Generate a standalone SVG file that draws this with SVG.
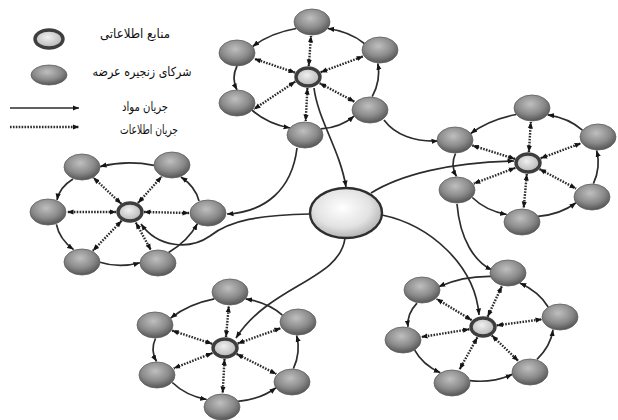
<svg xmlns="http://www.w3.org/2000/svg" width="618" height="420" viewBox="0 0 618 420">
<defs>
<radialGradient id="gn" cx="45%" cy="35%" r="65%"><stop offset="0" stop-color="#bfbfbf"/><stop offset="0.6" stop-color="#8a8a8a"/><stop offset="1" stop-color="#555"/></radialGradient>
<radialGradient id="gr" cx="45%" cy="40%" r="60%"><stop offset="0" stop-color="#f0f0f0"/><stop offset="1" stop-color="#b4b4b4"/></radialGradient>
<radialGradient id="gs" cx="45%" cy="40%" r="65%"><stop offset="0" stop-color="#ffffff"/><stop offset="0.6" stop-color="#e2e2e2"/><stop offset="1" stop-color="#a8a8a8"/></radialGradient>
<marker id="a" viewBox="0 0 10 10" refX="10" refY="5" markerWidth="6.5" markerHeight="6.5" markerUnits="userSpaceOnUse" orient="auto-start-reverse"><path d="M0,1 L10,5 L0,9 z" fill="#151515"/></marker>
</defs>
<style>
.n{fill:url(#gn);stroke:#606060;stroke-width:0.8}
.r{fill:url(#gr);stroke:#3e3e3e;stroke-width:3.4}
.s{fill:none;stroke:#2c2c2c;stroke-width:1.7}
.d{fill:none;stroke:#2c2c2c;stroke-width:2.4;stroke-dasharray:1.6 1.3}
.t{font-family:'DejaVu Sans',sans-serif;font-size:12.5px;fill:#111}
</style>
<rect width="618" height="420" fill="#fff"/>

<g id="legend">
<ellipse cx="49" cy="39" rx="14" ry="9" class="r" stroke-width="4.2"/>
<ellipse cx="49" cy="75" rx="18" ry="10" class="n"/>
<line x1="10" y1="108" x2="79" y2="108" class="s" marker-end="url(#a)"/>
<line x1="10" y1="127" x2="79" y2="127" class="d" marker-end="url(#a)"/>
<text class="t" x="135" y="38" text-anchor="middle" textLength="70" lengthAdjust="spacingAndGlyphs">منابع اطلاعاتی</text>
<text class="t" x="142" y="76" text-anchor="middle" textLength="99" lengthAdjust="spacingAndGlyphs">شرکای زنجیره عرضه</text>
<text class="t" x="145" y="111" text-anchor="middle" textLength="46" lengthAdjust="spacingAndGlyphs">جریان مواد</text>
<text class="t" x="149" y="134" text-anchor="middle" textLength="58" lengthAdjust="spacingAndGlyphs">جریان اطلاعات</text>
</g>

<g id="connectors">
<path class="s" d="M314,88 C318,120 340,150 346,187" marker-end="url(#a)"/>
<path class="s" d="M297,148 C292,190 265,212 227,214" marker-end="url(#a)"/>
<path class="s" d="M310,214 C260,215 230,220 210,236 C190,250 158,248 141,224" marker-end="url(#a)"/>
<path class="s" d="M371,193 C400,175 450,162 514,161" marker-end="url(#a)"/>
<path class="s" d="M384,120 C395,135 415,142 438,141" marker-end="url(#a)"/>
<path class="s" d="M457,204 C460,240 475,262 492,270" marker-end="url(#a)"/>
<path class="s" d="M382,215 C430,225 475,265 479,315" marker-end="url(#a)"/>
<path class="s" d="M345,238 C340,280 270,285 236,338" marker-end="url(#a)"/>

<line class="d" x1="308.8" y1="66" x2="311" y2="36" marker-start="url(#a)" marker-end="url(#a)"/>
<line class="d" x1="295.1" y1="72.6" x2="254.3" y2="58.8" marker-start="url(#a)" marker-end="url(#a)"/>
<line class="d" x1="295.3" y1="81.6" x2="253.9" y2="109.2" marker-start="url(#a)" marker-end="url(#a)"/>
<line class="d" x1="307.4" y1="88" x2="305.7" y2="121" marker-start="url(#a)" marker-end="url(#a)"/>
<line class="d" x1="319.6" y1="83.2" x2="354.6" y2="101.8" marker-start="url(#a)" marker-end="url(#a)"/>
<line class="d" x1="320.6" y1="72.3" x2="363.2" y2="56.3" marker-start="url(#a)" marker-end="url(#a)"/>
<path class="s" d="M296.3,28.5 Q270.6,32.9 252.7,46.5" marker-end="url(#a)"/>
<path class="s" d="M237,66 Q231,78 237,90" marker-end="url(#a)"/>
<path class="s" d="M251.9,110 Q267,123.5 290.1,128" marker-end="url(#a)"/>
<path class="s" d="M320.9,128.9 Q340.8,127.5 354.1,116.1" marker-end="url(#a)"/>
<path class="s" d="M372.2,96.7 Q381,80.3 377.8,63.3" marker-end="url(#a)"/>
<path class="s" d="M364.3,43.5 Q350,31.6 327.7,28.5" marker-end="url(#a)"/>

<line class="d" x1="528.9" y1="152" x2="530.8" y2="122" marker-start="url(#a)" marker-end="url(#a)"/>
<line class="d" x1="515.1" y1="159" x2="472.2" y2="145.4" marker-start="url(#a)" marker-end="url(#a)"/>
<line class="d" x1="540.6" y1="158.3" x2="581.1" y2="143.3" marker-start="url(#a)" marker-end="url(#a)"/>
<line class="d" x1="515.4" y1="167.8" x2="473.8" y2="183.6" marker-start="url(#a)" marker-end="url(#a)"/>
<line class="d" x1="539.5" y1="169.1" x2="576.1" y2="188.6" marker-start="url(#a)" marker-end="url(#a)"/>
<line class="d" x1="526.8" y1="174" x2="523.7" y2="208" marker-start="url(#a)" marker-end="url(#a)"/>
<path class="s" d="M516.3,114.5 Q489.5,119.5 470.7,133.5" marker-end="url(#a)"/>
<path class="s" d="M455.5,153.5 Q450,165.2 456.5,176.5" marker-end="url(#a)"/>
<path class="s" d="M472.3,197.5 Q485.5,210.5 506.7,214.5" marker-end="url(#a)"/>
<path class="s" d="M538,216.3 Q560.2,214.6 576,202.7" marker-end="url(#a)"/>
<path class="s" d="M593.4,183.6 Q601,167.4 596.6,150.4" marker-end="url(#a)"/>
<path class="s" d="M582.4,130.2 Q569,118 547.6,114.8" marker-end="url(#a)"/>

<line class="d" x1="121.3" y1="203.8" x2="93.3" y2="177.6" marker-start="url(#a)" marker-end="url(#a)"/>
<line class="d" x1="138" y1="203" x2="161.7" y2="176.6" marker-start="url(#a)" marker-end="url(#a)"/>
<line class="d" x1="116" y1="212" x2="67" y2="212" marker-start="url(#a)" marker-end="url(#a)"/>
<line class="d" x1="144" y1="212" x2="189" y2="213" marker-start="url(#a)" marker-end="url(#a)"/>
<line class="d" x1="121.7" y1="220.7" x2="92.8" y2="250.8" marker-start="url(#a)" marker-end="url(#a)"/>
<line class="d" x1="135.8" y1="222.5" x2="151" y2="250.3" marker-start="url(#a)" marker-end="url(#a)"/>
<path class="s" d="M154,165.4 Q126.6,160 100,166.6" marker-end="url(#a)"/>
<path class="s" d="M73,179 Q59.3,187.5 57,200" marker-end="url(#a)"/>
<path class="s" d="M56.4,224.4 Q59.4,239.2 73.6,249.6" marker-end="url(#a)"/>
<path class="s" d="M100,262.2 Q118.8,268.4 140,262.8" marker-end="url(#a)"/>
<path class="s" d="M168.6,252.4 Q188.4,240.6 197.4,223.6" marker-end="url(#a)"/>
<path class="s" d="M199,201 Q195.6,186.9 181,177" marker-end="url(#a)"/>

<line class="d" x1="226" y1="337" x2="228.8" y2="306" marker-start="url(#a)" marker-end="url(#a)"/>
<line class="d" x1="212.2" y1="343.8" x2="172.1" y2="330.6" marker-start="url(#a)" marker-end="url(#a)"/>
<line class="d" x1="237.7" y1="343.5" x2="280.9" y2="328.1" marker-start="url(#a)" marker-end="url(#a)"/>
<line class="d" x1="212.5" y1="353" x2="173.8" y2="368.3" marker-start="url(#a)" marker-end="url(#a)"/>
<line class="d" x1="236.6" y1="353.9" x2="276.3" y2="374" marker-start="url(#a)" marker-end="url(#a)"/>
<line class="d" x1="224.5" y1="359" x2="222.7" y2="393" marker-start="url(#a)" marker-end="url(#a)"/>
<path class="s" d="M214.4,298.9 Q188.7,303.9 170.6,318.1" marker-end="url(#a)"/>
<path class="s" d="M155.5,338.5 Q150,350 156.5,361.5" marker-end="url(#a)"/>
<path class="s" d="M172.3,382.5 Q185.7,395.6 206.7,399.5" marker-end="url(#a)"/>
<path class="s" d="M238,401.3 Q260.4,399.4 276,387.7" marker-end="url(#a)"/>
<path class="s" d="M293.4,368.6 Q301,352.3 296.6,335.4" marker-end="url(#a)"/>
<path class="s" d="M282.4,315.1 Q268.1,302.7 245.6,298.9" marker-end="url(#a)"/>

<line class="d" x1="487.6" y1="316.7" x2="501.9" y2="286.2" marker-start="url(#a)" marker-end="url(#a)"/>
<line class="d" x1="471.7" y1="320.2" x2="436.5" y2="298.8" marker-start="url(#a)" marker-end="url(#a)"/>
<line class="d" x1="496.6" y1="325.4" x2="542" y2="319.3" marker-start="url(#a)" marker-end="url(#a)"/>
<line class="d" x1="469.4" y1="329.2" x2="421" y2="337.1" marker-start="url(#a)" marker-end="url(#a)"/>
<line class="d" x1="491.7" y1="335.3" x2="518.4" y2="361" marker-start="url(#a)" marker-end="url(#a)"/>
<line class="d" x1="477.4" y1="337.3" x2="459.5" y2="369.5" marker-start="url(#a)" marker-end="url(#a)"/>
<path class="s" d="M491.3,276.3 Q462.8,275.9 438.7,286.7" marker-end="url(#a)"/>
<path class="s" d="M417,303.1 Q406.6,314 408,326.9" marker-end="url(#a)"/>
<path class="s" d="M414.7,350.2 Q422.4,364.7 440.3,372.8" marker-end="url(#a)"/>
<path class="s" d="M469.8,380.6 Q491.9,383.4 512.2,374.4" marker-end="url(#a)"/>
<path class="s" d="M537,359.3 Q550.8,346.1 553,329.7" marker-end="url(#a)"/>
<path class="s" d="M548.2,307 Q539.1,291.8 519.8,283" marker-end="url(#a)"/>
</g>

<g id="hub"><ellipse cx="346" cy="213" rx="36" ry="25" fill="url(#gs)" stroke="#2e2e2e" stroke-width="2.4"/></g>

<g id="top-cluster">
<g id="top-source"><ellipse cx="308" cy="77" rx="12" ry="9" class="r"/></g>
<g id="top-n1"><ellipse cx="312" cy="22" rx="18" ry="13" class="n"/></g>
<g id="top-n2"><ellipse cx="237" cy="53" rx="18" ry="13" class="n"/></g>
<g id="top-n3"><ellipse cx="237" cy="103" rx="18" ry="13" class="n"/></g>
<g id="top-n4"><ellipse cx="305" cy="135" rx="18" ry="13" class="n"/></g>
<g id="top-n5"><ellipse cx="370" cy="110" rx="18" ry="13" class="n"/></g>
<g id="top-n6"><ellipse cx="380" cy="50" rx="18" ry="13" class="n"/></g>
</g>

<g id="right-cluster">
<g id="right-source"><ellipse cx="528" cy="163" rx="12" ry="9" class="r"/></g>
<g id="right-n1"><ellipse cx="532" cy="108" rx="18" ry="13" class="n"/></g>
<g id="right-n2"><ellipse cx="455" cy="140" rx="18" ry="13" class="n"/></g>
<g id="right-n3"><ellipse cx="598" cy="137" rx="18" ry="13" class="n"/></g>
<g id="right-n4"><ellipse cx="457" cy="190" rx="18" ry="13" class="n"/></g>
<g id="right-n5"><ellipse cx="592" cy="197" rx="18" ry="13" class="n"/></g>
<g id="right-n6"><ellipse cx="522" cy="222" rx="18" ry="13" class="n"/></g>
</g>

<g id="left-cluster">
<g id="left-source"><ellipse cx="130" cy="212" rx="12" ry="9" class="r"/></g>
<g id="left-n1"><ellipse cx="82" cy="167" rx="18" ry="13" class="n"/></g>
<g id="left-n2"><ellipse cx="172" cy="165" rx="18" ry="13" class="n"/></g>
<g id="left-n3"><ellipse cx="48" cy="212" rx="18" ry="13" class="n"/></g>
<g id="left-n4"><ellipse cx="208" cy="213" rx="18" ry="13" class="n"/></g>
<g id="left-n5"><ellipse cx="82" cy="262" rx="18" ry="13" class="n"/></g>
<g id="left-n6"><ellipse cx="158" cy="263" rx="18" ry="13" class="n"/></g>
</g>

<g id="bottom-left-cluster">
<g id="bl-source"><ellipse cx="225" cy="348" rx="12" ry="9" class="r"/></g>
<g id="bl-n1"><ellipse cx="230" cy="292" rx="18" ry="13" class="n"/></g>
<g id="bl-n2"><ellipse cx="155" cy="325" rx="18" ry="13" class="n"/></g>
<g id="bl-n3"><ellipse cx="298" cy="322" rx="18" ry="13" class="n"/></g>
<g id="bl-n4"><ellipse cx="157" cy="375" rx="18" ry="13" class="n"/></g>
<g id="bl-n5"><ellipse cx="292" cy="382" rx="18" ry="13" class="n"/></g>
<g id="bl-n6"><ellipse cx="222" cy="407" rx="18" ry="13" class="n"/></g>
</g>

<g id="bottom-right-cluster">
<g id="br-source"><ellipse cx="483" cy="327" rx="12" ry="9" class="r"/></g>
<g id="br-n1"><ellipse cx="508" cy="273" rx="18" ry="13" class="n"/></g>
<g id="br-n2"><ellipse cx="422" cy="290" rx="18" ry="13" class="n"/></g>
<g id="br-n3"><ellipse cx="560" cy="317" rx="18" ry="13" class="n"/></g>
<g id="br-n4"><ellipse cx="403" cy="340" rx="18" ry="13" class="n"/></g>
<g id="br-n5"><ellipse cx="530" cy="372" rx="18" ry="13" class="n"/></g>
<g id="br-n6"><ellipse cx="452" cy="383" rx="18" ry="13" class="n"/></g>
</g>
</svg>
